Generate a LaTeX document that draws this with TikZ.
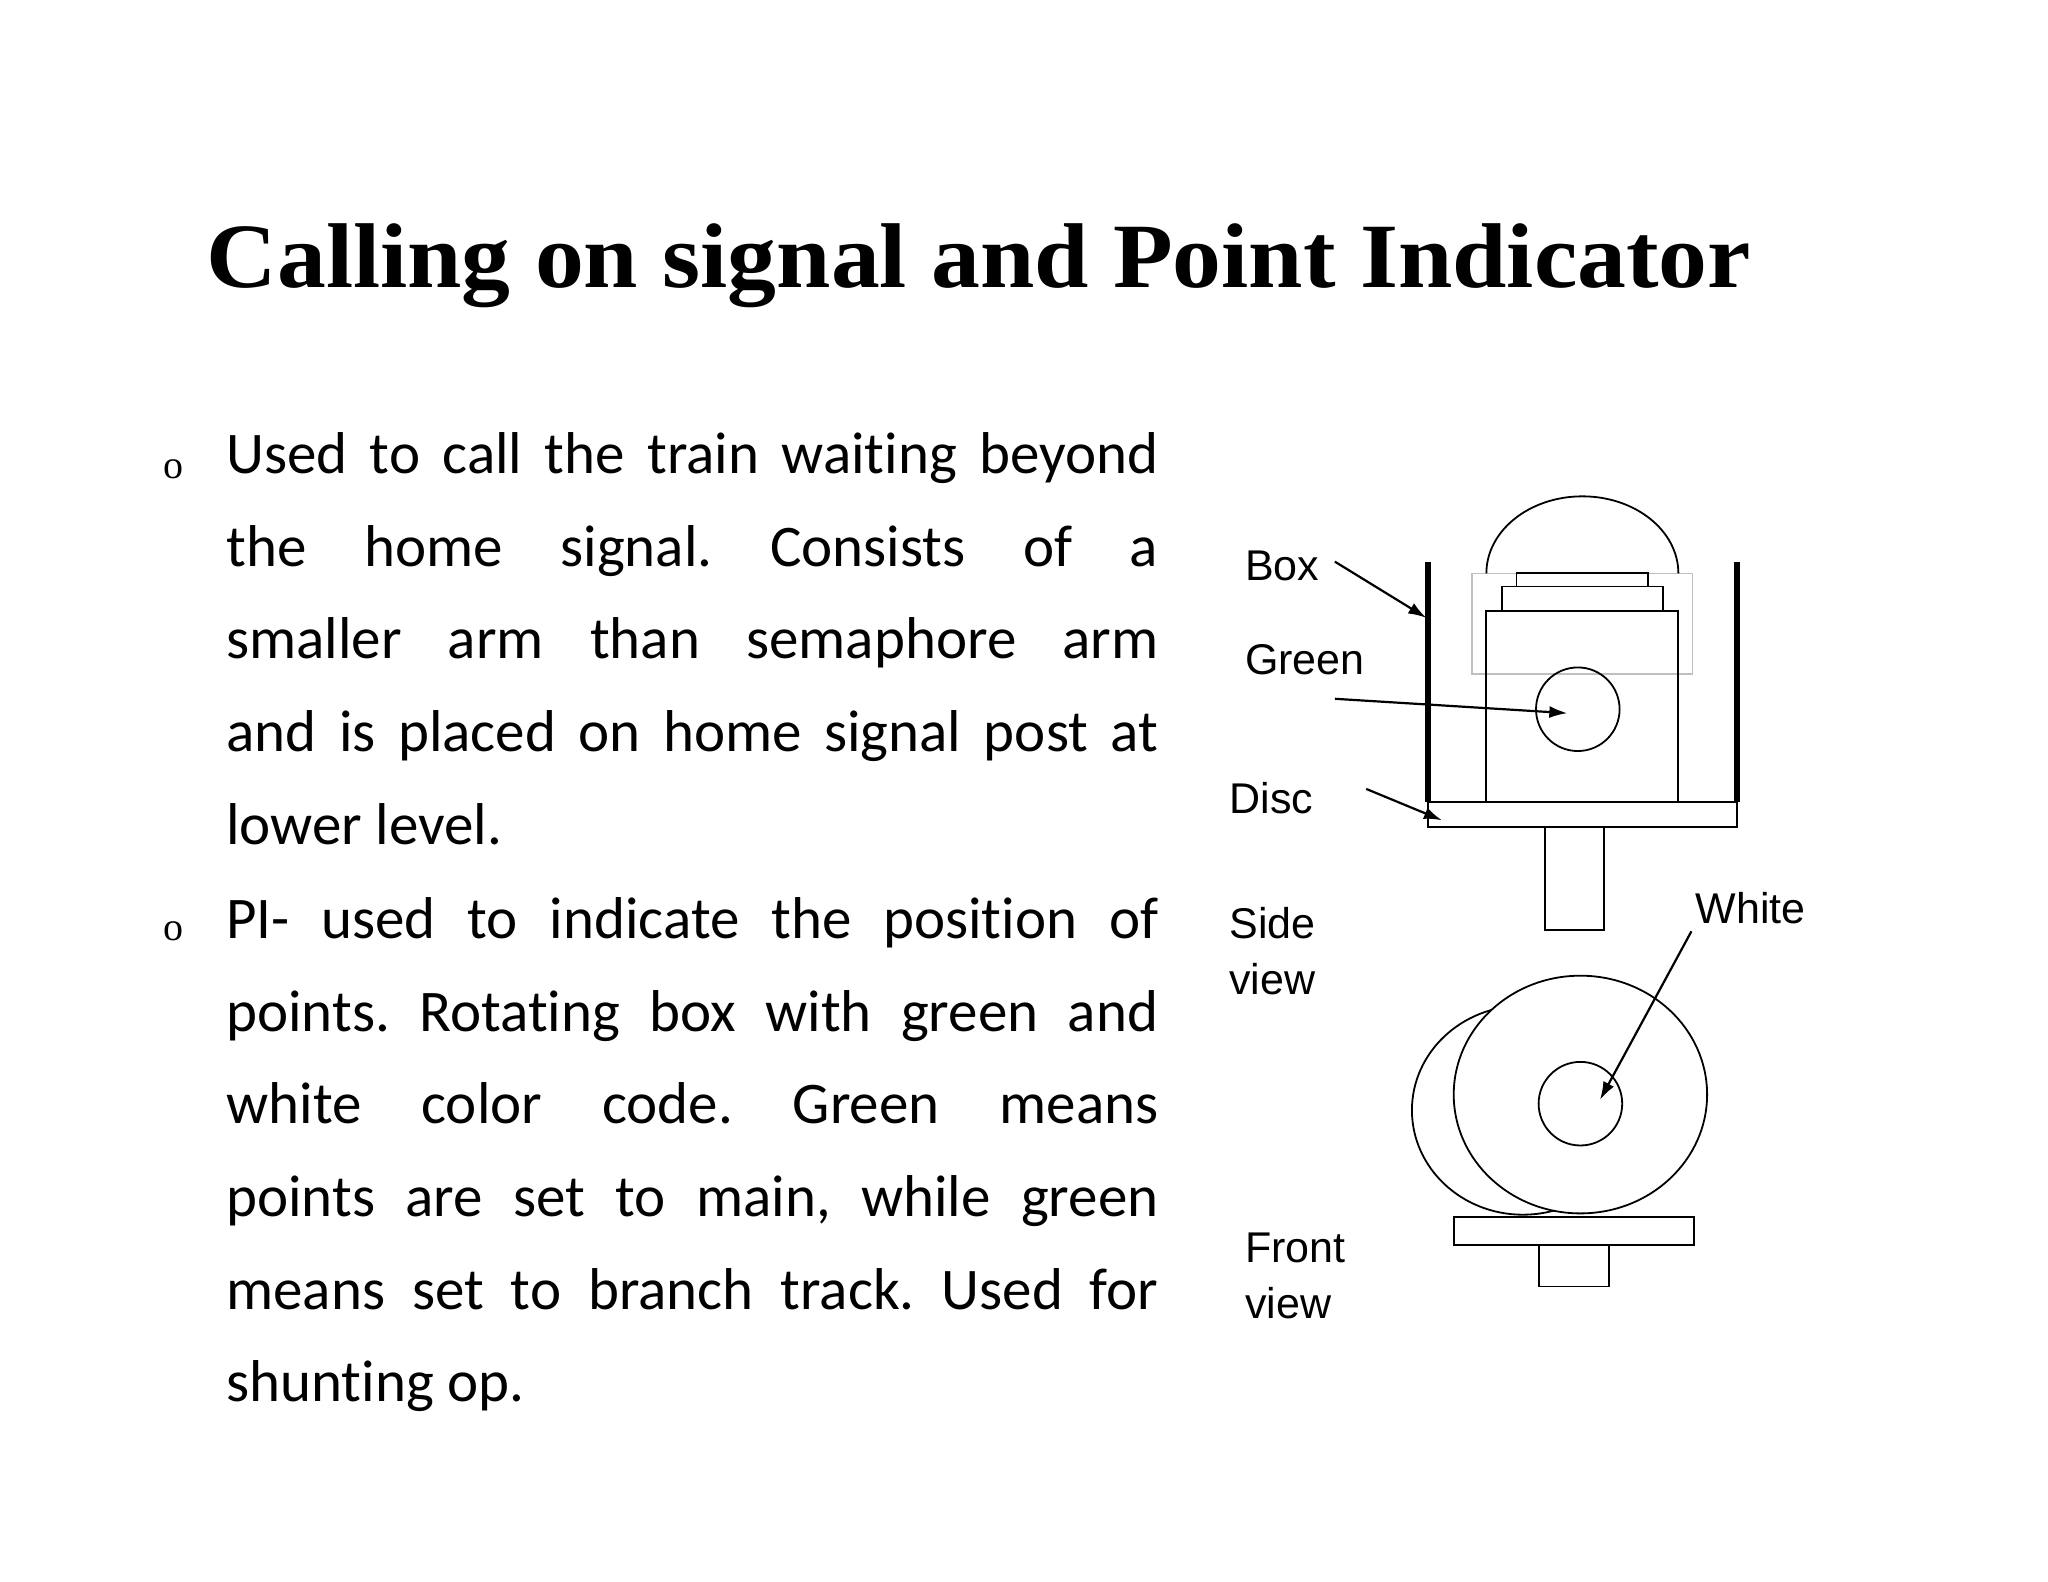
\documentclass[tikz,border=0pt]{standalone}
\usepackage{fontspec}
\usetikzlibrary{arrows.meta}
\setmainfont{Carlito}[RawFeature=-liga]
\newfontfamily\helv{Liberation Sans}
\newfontfamily\monoo{Liberation Serif}
\begin{document}
\begin{tikzpicture}[x=0.653pt,y=-0.653pt,
  lbl/.style={font=\helv\fontsize{21.5}{28}\selectfont,anchor=west,align=left,inner sep=0pt},
  part/.style={draw,line width=0.9pt},
  arr/.style={-{Latex[length=9pt,width=6pt]},line width=1.1pt}]
\useasboundingbox (0,0) rectangle (1568,1211);
\node[anchor=base west,inner sep=0pt] (title) at (158,220) {\resizebox{772pt}{\height}{\monoo\bfseries\fontsize{46}{50}\selectfont Calling on signal and Point Indicator}};
\tikzset{body/.style={anchor=north west,inner sep=0pt,text width=466pt,align=justify,font=\frenchspacing\fontsize{29.5}{46.3}\selectfont}}
\node[body] (p1) at (173,331) {Used to call the train waiting beyond\linebreak the home signal. Consists of a\linebreak smaller arm than semaphore arm\linebreak and is placed on home signal post at\linebreak lower level.};
\node[body] (p2) at (173,687) {PI- used to indicate the position of\linebreak points. Rotating box with green and\linebreak white color code. Green means\linebreak points are set to main, while green\linebreak means set to branch track. Used for\linebreak shunting op.};
\node[anchor=base,font=\monoo\fontsize{20}{20}\selectfont] (b1) at (133,366) {o};
\node[anchor=base,font=\monoo\fontsize{20}{20}\selectfont] (b2) at (133,720) {o};
% side view
\draw[draw=black!25,line width=0.6pt] (1127,439) rectangle (1296,516);
\draw[part] (1138,439) arc[start angle=180,end angle=0,x radius=73.5,y radius=-59];
\draw[part] (1161,439) rectangle (1262,449);
\draw[part] (1150,449) rectangle (1273,468);
\draw[part] (1138,468) rectangle (1285,614);
\draw[part] (1093,614) rectangle (1330,633);
\draw[part] (1183,633) rectangle (1228,712);
\draw[line width=3pt] (1093,430) -- (1093,614);
\draw[line width=3pt] (1330,430) -- (1330,614);
\draw[part] (1208,543) circle[radius=32];
\coordinate (boxp) at (1092,473);
\coordinate (greenp) at (1200,546);
\coordinate (discp) at (1104,628);
\coordinate (whitep) at (1225,842);
% front view
\draw[part] (1166,850) ellipse[x radius=85,y radius=80];
\draw[part,fill=white] (1210,838) ellipse[x radius=97,y radius=91];
\draw[part] (1210,845) circle[radius=32];
\draw[part,fill=white] (1113,932) rectangle (1297,953);
\draw[part] (1178,953) rectangle (1232,985);
% labels
\node[lbl] (box) at (953,433) {Box};
\node[lbl] (green) at (953,505) {Green};
\node[lbl] (disc) at (941,611) {Disc};
\node[lbl] (side) at (941,728) {Side\\[0pt]view};
\node[lbl] (white) at (1298,695) {White};
\node[lbl] (front) at (953,977) {Front\\[0pt]view};
\draw[arr] (1022,430) -- (boxp);
\draw[arr] (1022,535) -- (greenp);
\draw[arr] (1046,604) -- (discp);
\draw[arr] (1295,713) -- (whitep);
\end{tikzpicture}
\end{document}
